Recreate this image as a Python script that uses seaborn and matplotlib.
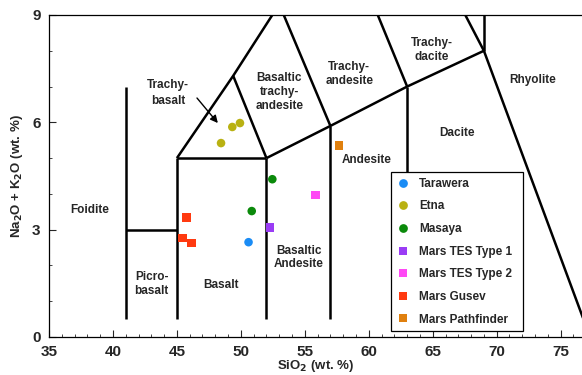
import matplotlib
matplotlib.use("Agg")
import matplotlib.pyplot as plt
import seaborn as sns
import pandas as pd
from matplotlib.lines import Line2D
from matplotlib.ticker import MultipleLocator

sns.set_style("ticks")
plt.rcParams['font.family'] = ['Liberation Sans', 'DejaVu Sans']
plt.rcParams['font.weight'] = 'bold'

# ---- data ----
series_names = ["Tarawera", "Etna", "Masaya", "Mars TES Type 1",
                "Mars TES Type 2", "Mars Gusev", "Mars Pathfinder"]
series_colors = ["#1a8cf5", "#b9b112", "#0b8a0b", "#9a3cf5",
                 "#ff48f5", "#ff3a10", "#e0800e"]
series_markers = ["o", "o", "o", "s", "s", "s", "s"]

tarawera_sio2 = [50.6]
tarawera_alk = [2.65]
etna_sio2 = [48.45, 49.33, 49.93]
etna_alk = [5.42, 5.87, 5.98]
masaya_sio2 = [52.46, 50.85]
masaya_alk = [4.41, 3.52]
tes1_sio2 = [52.28]
tes1_alk = [3.06]
tes2_sio2 = [55.85]
tes2_alk = [3.97]
gusev_sio2 = [45.74, 45.42, 46.16]
gusev_alk = [3.34, 2.77, 2.63]
pathfinder_sio2 = [57.67]
pathfinder_alk = [5.36]

# TAS field boundaries (SiO2, Na2O+K2O)
boundaries = [
    ([41, 41], [0.5, 7.0]),
    ([41, 45], [3.0, 3.0]),
    ([45, 45], [0.5, 5.0]),
    ([45, 52], [5.0, 5.0]),
    ([52, 52], [0.5, 5.0]),
    ([57, 57], [0.5, 5.9]),
    ([63, 63], [0.5, 7.0]),
    ([69, 69], [8.0, 13.0]),
    ([52, 57, 63, 69], [5.0, 5.9, 7.0, 8.0]),
    ([45, 49.4, 53, 57.6], [5.0, 7.3, 9.3, 11.7]),
    ([49.4, 52], [7.3, 5.0]),
    ([53, 57], [9.3, 5.9]),
    ([57.6, 63], [11.7, 7.0]),
    ([61, 69], [13.5, 8.0]),
    ([69, 77.3], [8.0, 0.0]),
]

field_labels = ["Foidite", "Picro-\nbasalt", "Basalt", "Basaltic\nAndesite",
                "Andesite", "Dacite", "Rhyolite", "Trachy-\ndacite",
                "Trachy-\nandesite", "Basaltic\ntrachy-\nandesite", "Trachy-\nbasalt"]
field_x = [38.2, 43.03, 48.45, 54.55, 59.84, 66.88, 72.79, 64.92, 58.48, 53.0, 44.3]
field_y = [3.55, 1.475, 1.45, 2.22, 4.94, 5.71, 7.18, 8.02, 7.35, 6.85, 6.81]

x_ticks = [35, 40, 45, 50, 55, 60, 65, 70, 75]
y_ticks = [0, 3, 6, 9]

# ---- build table ----
all_x = [tarawera_sio2, etna_sio2, masaya_sio2, tes1_sio2, tes2_sio2, gusev_sio2, pathfinder_sio2]
all_y = [tarawera_alk, etna_alk, masaya_alk, tes1_alk, tes2_alk, gusev_alk, pathfinder_alk]
rows = []
for name, xs, ys in zip(series_names, all_x, all_y):
    for xv, yv in zip(xs, ys):
        rows.append({"SiO2": xv, "Alk": yv, "Sample": name})
df = pd.DataFrame(rows)

fig = plt.figure(figsize=(5.82, 3.75), dpi=100)
ax = fig.add_axes([49 / 582, 1 - 337 / 375, 533 / 582, 322 / 375])

for bx, by in boundaries:
    ax.plot(bx, by, color="black", lw=1.8, solid_capstyle="butt", zorder=2)

palette = dict(zip(series_names, series_colors))
markers = dict(zip(series_names, series_markers))
sns.scatterplot(data=df, x="SiO2", y="Alk", hue="Sample", style="Sample",
                hue_order=series_names, style_order=series_names,
                palette=palette, markers=markers, s=38, linewidth=0,
                ax=ax, zorder=3, legend=False)

for lab, lx, ly in zip(field_labels, field_x, field_y):
    ls = 1.45 if lab.startswith("Trachy-\nbasalt") else 1.2
    ax.text(lx, ly, lab, ha="center", va="center", fontsize=8.5,
            fontweight="bold", linespacing=ls, zorder=4)

ax.annotate("", xy=(48.2, 5.98), xytext=(46.57, 6.68),
            arrowprops=dict(arrowstyle="-|>", color="black", lw=1.0,
                            mutation_scale=11, shrinkA=0, shrinkB=0), zorder=4)

ax.set_xlim(35, 76.67)
ax.set_ylim(0, 9)
ax.set_xticks(x_ticks)
ax.set_yticks(y_ticks)
ax.xaxis.set_minor_locator(MultipleLocator(1))
ax.yaxis.set_minor_locator(MultipleLocator(1))
ax.tick_params(axis="both", which="major", direction="in", length=5, width=0.8,
               labelsize=11)
ax.tick_params(axis="x", which="major", pad=6)
ax.tick_params(axis="y", which="major", pad=6)
ax.tick_params(axis="both", which="minor", direction="in", length=2.5, width=0.6)
for lab in ax.get_xticklabels() + ax.get_yticklabels():
    lab.set_fontweight("bold")
for side in ["left", "bottom", "top"]:
    ax.spines[side].set_linewidth(0.9)
    ax.spines[side].set_color("black")
ax.spines["right"].set_visible(False)

ax.set_xlabel("SiO$_2$ (wt. %)", fontsize=9.5, fontweight="bold", labelpad=-1)
ax.set_ylabel("Na$_2$O + K$_2$O (wt. %)", fontsize=9.5, fontweight="bold", labelpad=5)

handles = [Line2D([0], [0], marker=m, color="none", markerfacecolor=c,
                  markeredgewidth=0, markersize=6.3)
           for m, c in zip(series_markers, series_colors)]
leg = ax.legend(handles, series_names, loc="upper left",
                bbox_to_anchor=(0.6417, 0.0248, 0.2474, 0.488), mode="expand",
                prop={"weight": "bold", "size": 8.5}, frameon=True, fancybox=False,
                framealpha=1, edgecolor="black", labelspacing=0.9,
                handlelength=1.0, handletextpad=0.9, borderpad=0.5,
                borderaxespad=0)
leg.get_frame().set_linewidth(0.9)
leg.set_zorder(5)

fig.savefig("out.png", dpi=100)
